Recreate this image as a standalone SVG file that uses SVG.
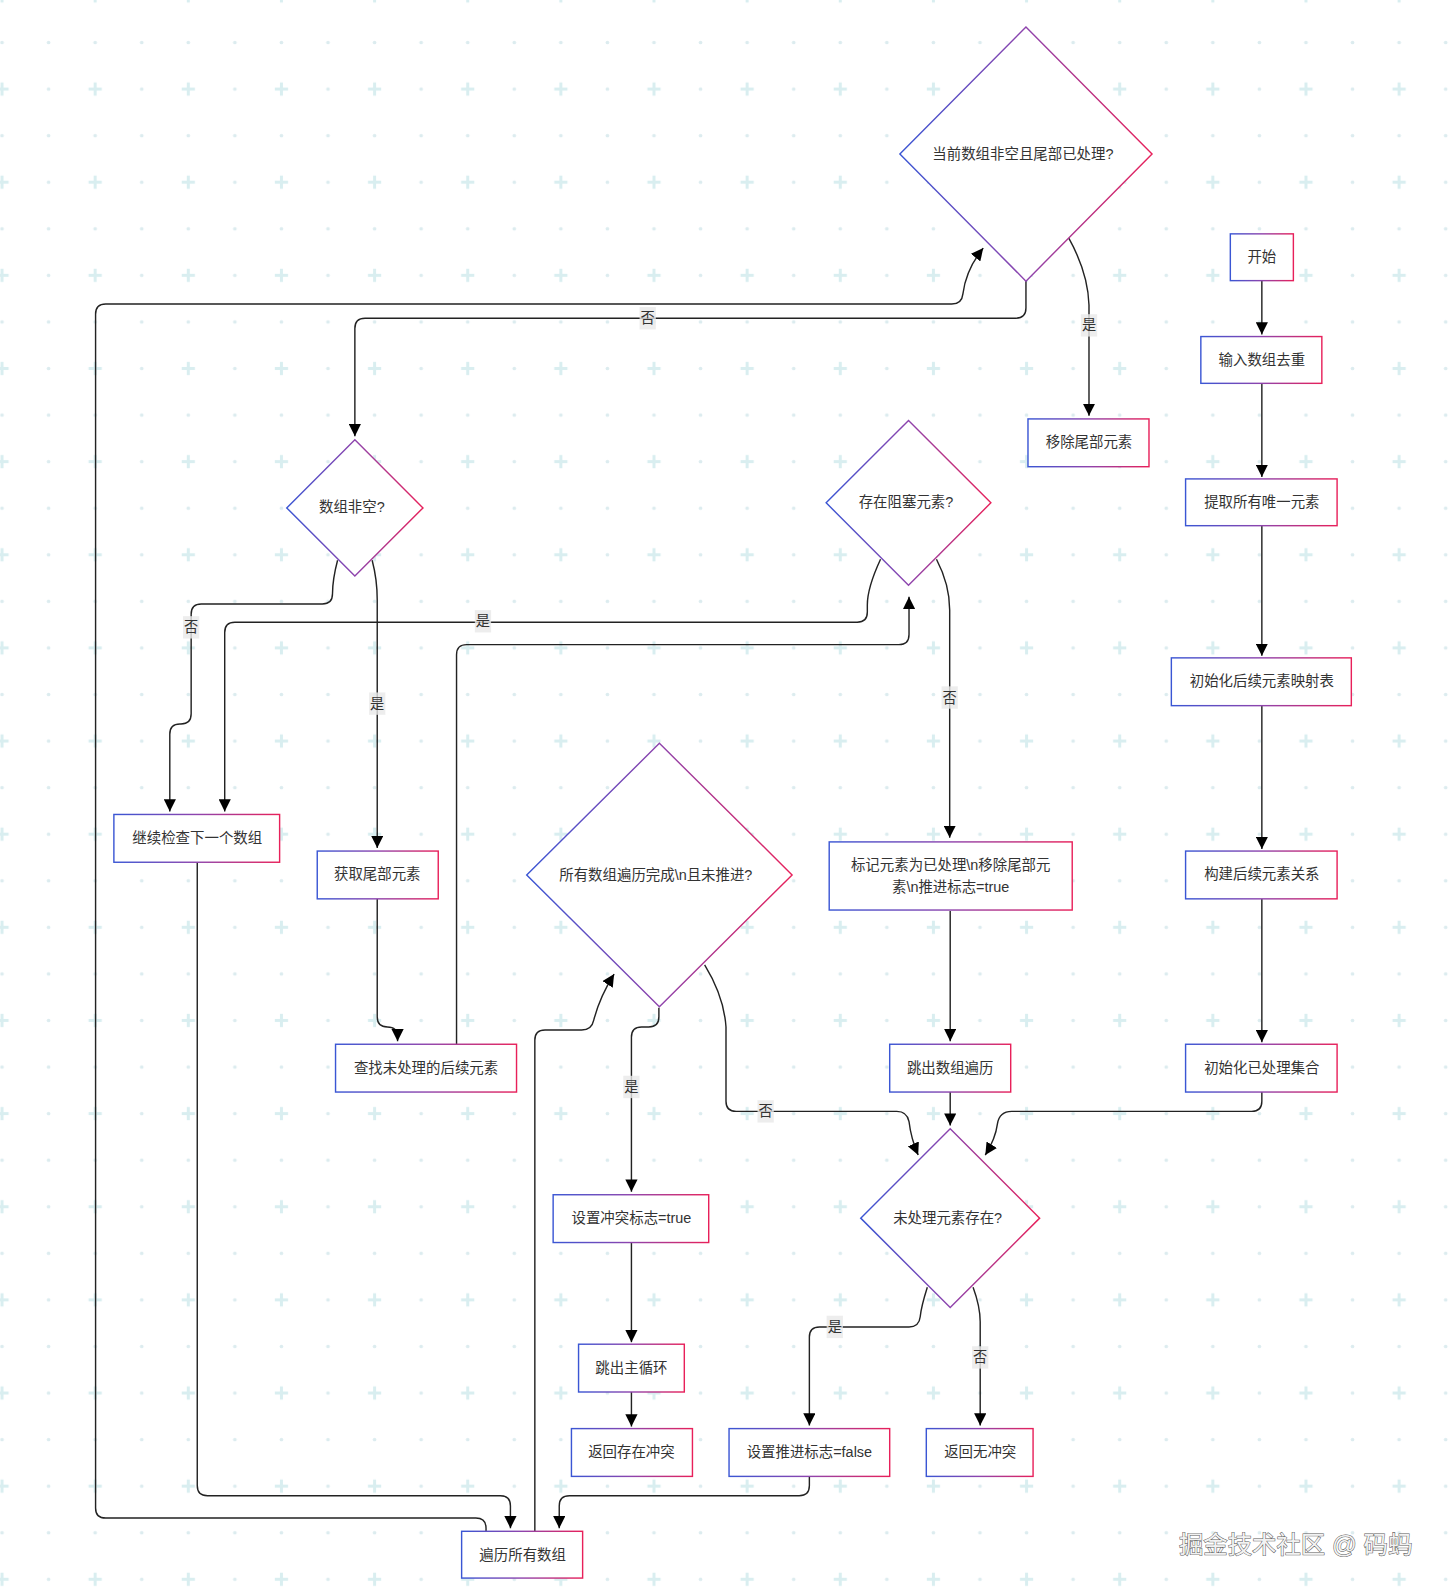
<svg xmlns="http://www.w3.org/2000/svg" width="1451" height="1595" viewBox="0 0 1451 1595">
<defs>
<linearGradient id="g" x1="0" y1="0" x2="1" y2="0">
<stop offset="0" stop-color="#3a56d4"/>
<stop offset="0.5" stop-color="#8e44ad"/>
<stop offset="1" stop-color="#e8205a"/>
</linearGradient>
<pattern id="bg" patternUnits="userSpaceOnUse" x="-20.9" y="64.7" width="91.6" height="91.6">
<rect x="21.4" y="16.4" width="3" height="13" fill="#d9eef0"/>
<rect x="16.4" y="21.4" width="13" height="3" fill="#d9eef0"/>
<circle cx="68.7" cy="22.9" r="1.8" fill="#dcecef"/>
<circle cx="22.9" cy="68.7" r="1.8" fill="#dcecef"/>
<circle cx="68.7" cy="68.7" r="1.8" fill="#dcecef"/>
</pattern>
<marker id="ah" markerUnits="userSpaceOnUse" markerWidth="13" markerHeight="12" refX="12" refY="6" orient="auto">
<path d="M0,0 L12,6 L0,12 z" fill="#000"/>
</marker>
</defs>
<style>
.n rect,.n polygon{fill:#fff;stroke:url(#g);stroke-width:1.4}
.n text{font-family:"Liberation Sans","Noto Sans CJK SC",sans-serif;font-size:14.2px;fill:#333;text-anchor:middle;dominant-baseline:central}
.e path{fill:none;stroke:#222;stroke-width:1.4}
.e path.a{marker-end:url(#ah)}
.l rect{fill:rgba(232,232,232,0.8)}
.l text{font-family:"Liberation Sans","Noto Sans CJK SC",sans-serif;font-size:14px;fill:#333;text-anchor:middle;dominant-baseline:central}
</style>
<rect width="1451" height="1595" fill="#fff"/>
<g transform="scale(1.0168)">
<rect x="0" y="0" width="1430" height="1570" fill="url(#bg)"/>

<g id="connectors" class="e">
<path class="a" d="M1241,276 L1241,329"/>
<path class="a" d="M1241,377 L1241,469"/>
<path class="a" d="M1241,517 L1241,645"/>
<path class="a" d="M1241,694 L1241,835"/>
<path class="a" d="M1241,884 L1241,1025"/>
<path class="a" d="M1241,1074 L1241,1083 Q1241,1093 1231,1093 L995,1093 Q983,1093 981,1105 Q979,1120 969,1136"/>
<path class="a" d="M934.5,1074 L934.5,1107"/>
<path class="a" d="M693,949 Q712,980 714,1010 L714,1083 Q714,1093 724,1093 L882,1093 Q892,1093 894,1103 Q896,1120 903,1136"/>
<path class="a" d="M912,1266 Q906,1285 905,1295 Q904,1305 894,1305 L806,1305 Q796,1305 796,1315 L796,1402"/>
<path class="a" d="M957,1266 Q964,1285 964,1300 L964,1402"/>
<path class="a" d="M796,1452 L796,1461 Q796,1471 786,1471 L560,1471 Q550,1471 550,1481 L550,1503"/>
<path class="a" d="M194,848 L194,1461 Q194,1471 204,1471 L492,1471 Q502,1471 502,1481 L502,1503"/>
<path class="a" d="M478,1506 L478,1503 Q478,1493 468,1493 L104,1493 Q94,1493 94,1483 L94,309 Q94,299 104,299 L936,299 Q946,299 947,289 Q950,265 967,244"/>
<path class="a" d="M1051,234 Q1070,268 1071,300 L1071,409"/>
<path class="a" d="M1009,276 L1009,303 Q1009,313 999,313 L359,313 Q349,313 349,323 L349,429"/>
<path class="a" d="M332,551 Q327,570 327,584 Q327,594 317,594 L198,594 Q188,594 188,604 L188,702 Q188,712 178,712 L177,712 Q167,712 167,722 L167,798"/>
<path class="a" d="M366,551 Q371,570 371,590 L371,834"/>
<path class="a" d="M866,550 Q853,578 853,595 L853,602 Q853,612 843,612 L231,612 Q221,612 221,622 L221,798"/>
<path class="a" d="M921,550 Q934,575 934,600 L934,824"/>
<path class="a" d="M371,884 L371,1000 Q371,1010 381,1010 Q391,1010 391,1020 L391,1024"/>
<path class="a" d="M449,1027 L449,644 Q449,634 459,634 L884,634 Q894,634 894,624 L894,587"/>
<path class="a" d="M934.5,896 L934.5,1024"/>
<path class="a" d="M526,1506 L526,1023 Q526,1013 536,1013 L572,1013 Q582,1013 584,1003 Q590,980 604,958"/>
<path class="a" d="M648,991 L648,1000 Q648,1010 638,1010 L631,1010 Q621,1010 621,1020 L621,1172"/>
<path class="a" d="M621,1222 L621,1320"/>
<path class="a" d="M621,1369 L621,1403"/>
</g>

<g id="edge-labels" class="l">
<g><rect x="629" y="302" width="16" height="22"/><text x="637" y="313">否</text></g>
<g><rect x="1063" y="309" width="16" height="22"/><text x="1071" y="320">是</text></g>
<g><rect x="180" y="606" width="16" height="22"/><text x="188" y="617">否</text></g>
<g><rect x="467" y="600" width="16" height="22"/><text x="475" y="611">是</text></g>
<g><rect x="363" y="681" width="16" height="22"/><text x="371" y="692">是</text></g>
<g><rect x="926" y="675" width="16" height="22"/><text x="934" y="686">否</text></g>
<g><rect x="613" y="1058" width="16" height="22"/><text x="621" y="1069">是</text></g>
<g><rect x="745" y="1082" width="16" height="22"/><text x="753" y="1093">否</text></g>
<g><rect x="813" y="1294" width="16" height="22"/><text x="821" y="1305">是</text></g>
<g><rect x="956" y="1324" width="16" height="22"/><text x="964" y="1335">否</text></g>
</g>

<g id="n-start" class="n"><rect x="1210" y="230" width="62" height="46"/><text x="1241" y="253">开始</text></g>
<g id="n-dedup" class="n"><rect x="1181" y="331" width="119" height="46"/><text x="1241" y="354">输入数组去重</text></g>
<g id="n-extract" class="n"><rect x="1166" y="471" width="149" height="46"/><text x="1241" y="494">提取所有唯一元素</text></g>
<g id="n-initmap" class="n"><rect x="1152" y="647" width="177" height="47"/><text x="1241" y="670">初始化后续元素映射表</text></g>
<g id="n-build" class="n"><rect x="1166" y="837" width="149" height="47"/><text x="1241" y="860">构建后续元素关系</text></g>
<g id="n-initset" class="n"><rect x="1166" y="1027" width="149" height="47"/><text x="1241" y="1050">初始化已处理集合</text></g>
<g id="n-unproc" class="n"><polygon points="934.5,1110 1022.5,1198 934.5,1286 846.5,1198"/><text x="932" y="1198">未处理元素存在?</text></g>
<g id="n-setfalse" class="n"><rect x="717" y="1405" width="158" height="47"/><text x="796" y="1428">设置推进标志=false</text></g>
<g id="n-noconf" class="n"><rect x="911" y="1405" width="105" height="47"/><text x="964" y="1428">返回无冲突</text></g>
<g id="n-iter" class="n"><rect x="454" y="1506" width="119" height="46"/><text x="514" y="1529">遍历所有数组</text></g>
<g id="n-alldone" class="n"><polygon points="648.5,731 779,860.5 648.5,990 518,860.5"/><text x="645" y="861">所有数组遍历完成\n且未推进?</text></g>
<g id="n-settrue" class="n"><rect x="544" y="1175" width="153" height="47"/><text x="621" y="1198">设置冲突标志=true</text></g>
<g id="n-break" class="n"><rect x="569" y="1322" width="104" height="47"/><text x="621" y="1345">跳出主循环</text></g>
<g id="n-conf" class="n"><rect x="562" y="1405" width="119" height="47"/><text x="621" y="1428">返回存在冲突</text></g>
<g id="n-tail" class="n"><polygon points="1009,26.5 1133,151.5 1009,276.5 885,151.5"/><text x="1006" y="151">当前数组非空且尾部已处理?</text></g>
<g id="n-remove" class="n"><rect x="1011" y="412" width="119" height="47"/><text x="1071" y="435">移除尾部元素</text></g>
<g id="n-nonempty" class="n"><polygon points="349,432.5 416,499.5 349,566.5 282,499.5"/><text x="346" y="499">数组非空?</text></g>
<g id="n-gettail" class="n"><rect x="312" y="837" width="119" height="47"/><text x="371" y="860">获取尾部元素</text></g>
<g id="n-next" class="n"><rect x="112" y="801" width="163" height="47"/><text x="194" y="824">继续检查下一个数组</text></g>
<g id="n-find" class="n"><rect x="330" y="1027" width="178" height="47"/><text x="419" y="1050">查找未处理的后续元素</text></g>
<g id="n-block" class="n"><polygon points="893.5,413.5 974.5,494.5 893.5,575.5 812.5,494.5"/><text x="891" y="494">存在阻塞元素?</text></g>
<g id="n-mark" class="n"><rect x="815.5" y="828" width="239" height="67"/><text x="935" y="850.5">标记元素为已处理\n移除尾部元</text><text x="935" y="872.5">素\n推进标志=true</text></g>
<g id="n-breakarr" class="n"><rect x="875" y="1027" width="119" height="47"/><text x="934.5" y="1050">跳出数组遍历</text></g>

<g id="watermark">
<text x="1389" y="1527" font-family="Liberation Sans,Noto Sans CJK SC,sans-serif" font-size="24" text-anchor="end" fill="#f2f2f2" stroke="#5a5a5a" stroke-width="1" paint-order="stroke">掘金技术社区 @ 码蚂</text>
</g>
</g>
</svg>
